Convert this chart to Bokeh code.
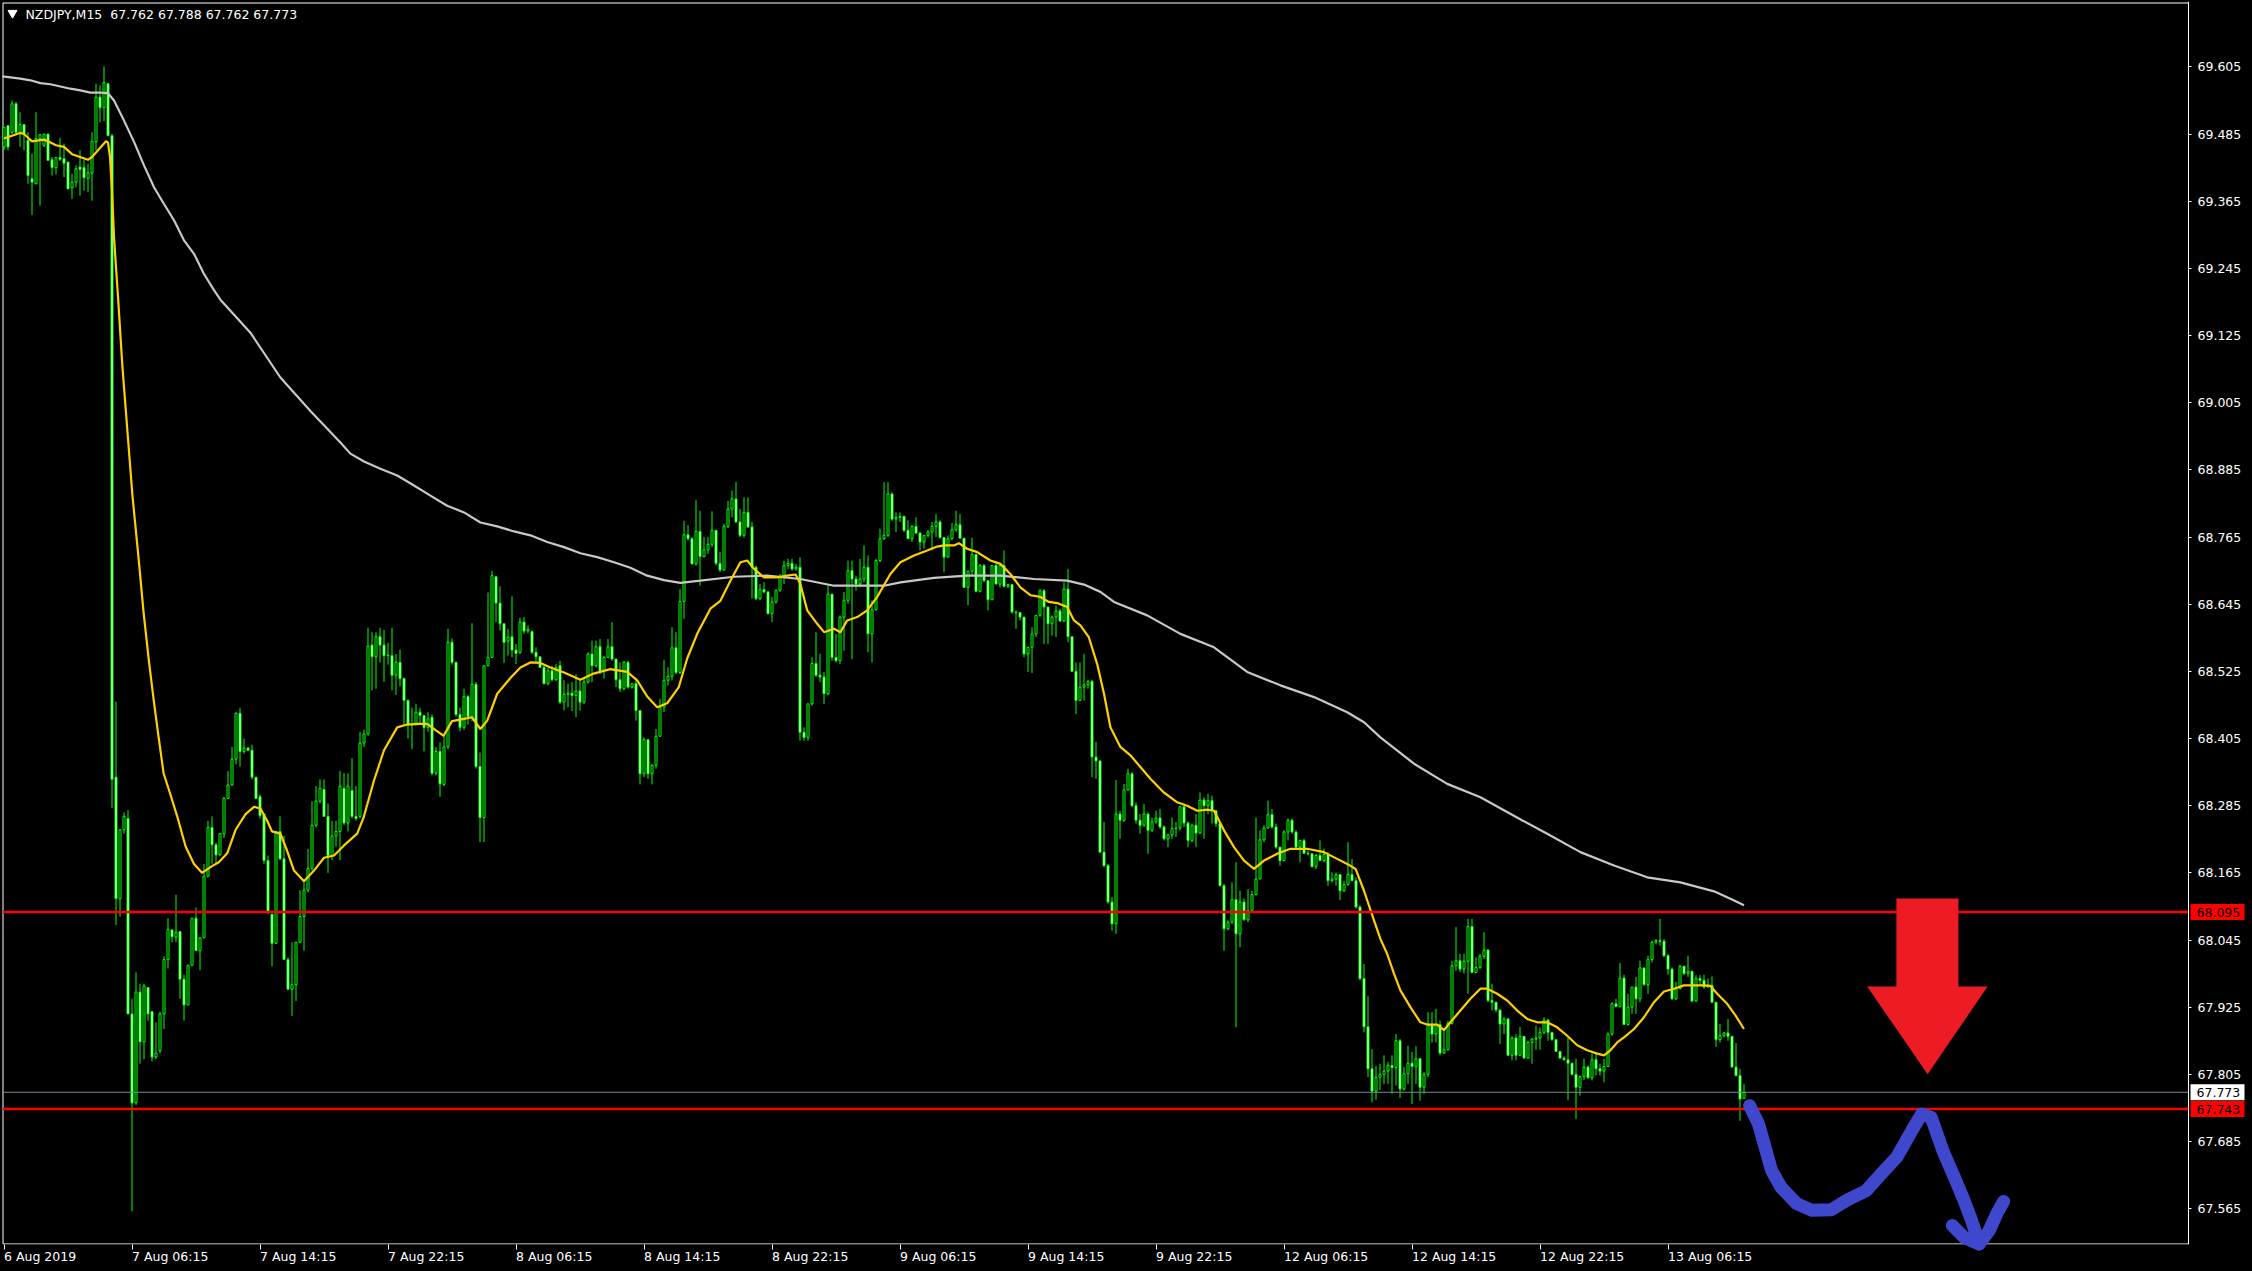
from bokeh.plotting import figure
from bokeh.models import (Range1d, FixedTicker, Label, ColumnDataSource,
                          PrintfTickFormatter, GlobalInlineStyleSheet)
from bokeh.embed import file_html
from bokeh.resources import INLINE
from bokeh.core.properties import value

symbol = "NZDJPY,M15"

opens = [
69.462, 69.500, 69.488, 69.539, 69.488, 69.502, 69.474, 69.405, 69.396, 69.477,
69.465, 69.485, 69.439, 69.425, 69.443, 69.441, 69.435, 69.389, 69.399, 69.426,
69.425, 69.406, 69.415, 69.471, 69.551, 69.532, 69.575, 69.482, 68.336, 68.119,
68.242, 68.262, 67.913, 67.754, 67.952, 67.863, 67.960, 67.917, 67.836, 67.847,
67.913, 68.010, 68.063, 68.050, 68.060, 67.975, 67.929, 68.000, 68.084, 68.026,
68.049, 68.159, 68.246, 68.215, 68.197, 68.235, 68.298, 68.322, 68.368, 68.450,
68.382, 68.388, 68.384, 68.336, 68.301, 68.270, 68.187, 68.091, 68.039, 68.239,
68.190, 68.010, 67.957, 67.965, 68.041, 68.087, 68.134, 68.173, 68.250, 68.293,
68.314, 68.266, 68.196, 68.231, 68.239, 68.316, 68.254, 68.312, 68.266, 68.266,
68.397, 68.413, 68.572, 68.551, 68.587, 68.572, 68.553, 68.553, 68.518, 68.541,
68.512, 68.473, 68.429, 68.430, 68.452, 68.446, 68.425, 68.443, 68.343, 68.382,
68.323, 68.390, 68.577, 68.541, 68.448, 68.425, 68.480, 68.444, 68.502, 68.355,
68.264, 68.535, 68.550, 68.694, 68.647, 68.610, 68.579, 68.587, 68.563, 68.559,
68.613, 68.597, 68.596, 68.559, 68.551, 68.532, 68.503, 68.526, 68.510, 68.535,
68.470, 68.484, 68.486, 68.482, 68.490, 68.470, 68.506, 68.556, 68.535, 68.569,
68.526, 68.550, 68.569, 68.547, 68.510, 68.494, 68.541, 68.497, 68.503, 68.455,
68.342, 68.403, 68.342, 68.357, 68.409, 68.461, 68.509, 68.516, 68.567, 68.523,
68.650, 68.769, 68.762, 68.717, 68.775, 68.730, 68.742, 68.752, 68.777, 68.718,
68.706, 68.784, 68.815, 68.833, 68.792, 68.768, 68.809, 68.783, 68.711, 68.655,
68.671, 68.667, 68.628, 68.649, 68.670, 68.693, 68.714, 68.718, 68.708, 68.711,
68.416, 68.407, 68.467, 68.539, 68.518, 68.515, 68.485, 68.663, 68.550, 68.544,
68.622, 68.652, 68.705, 68.690, 68.681, 68.690, 68.711, 68.592, 68.635, 68.723,
68.762, 68.768, 68.842, 68.797, 68.800, 68.802, 68.777, 68.762, 68.784, 68.772,
68.756, 68.768, 68.774, 68.784, 68.792, 68.764, 68.729, 68.762, 68.778, 68.787,
68.763, 68.675, 68.704, 68.734, 68.668, 68.714, 68.687, 68.653, 68.714, 68.681,
68.714, 68.677, 68.680, 68.631, 68.630, 68.622, 68.556, 68.568, 68.592, 68.625,
68.669, 68.640, 68.610, 68.622, 68.633, 68.615, 68.672, 68.587, 68.525, 68.473,
68.497, 68.501, 68.507, 68.372, 68.365, 68.202, 68.178, 68.113, 68.074, 68.270,
68.259, 68.313, 68.342, 68.285, 68.259, 68.250, 68.270, 68.241, 68.256, 68.263,
68.247, 68.226, 68.233, 68.244, 68.245, 68.283, 68.254, 68.223, 68.250, 68.236,
68.295, 68.285, 68.294, 68.276, 68.253, 68.142, 68.065, 68.077, 68.117, 68.056,
68.113, 68.081, 68.098, 68.126, 68.154, 68.224, 68.245, 68.269, 68.247, 68.211,
68.187, 68.238, 68.259, 68.238, 68.211, 68.223, 68.200, 68.199, 68.176, 68.196,
68.187, 68.198, 68.151, 68.154, 68.162, 68.133, 68.144, 68.162, 68.151, 68.104,
67.976, 67.890, 67.815, 67.775, 67.800, 67.805, 67.811, 67.821, 67.817, 67.865,
67.779, 67.806, 67.825, 67.819, 67.833, 67.782, 67.805, 67.895, 67.877, 67.894,
67.843, 67.849, 67.896, 67.999, 68.008, 67.993, 68.007, 68.069, 67.987, 67.996,
68.016, 68.027, 67.937, 67.934, 67.920, 67.895, 67.904, 67.839, 67.870, 67.839,
67.873, 67.834, 67.862, 67.868, 67.870, 67.880, 67.902, 67.880, 67.867, 67.846,
67.834, 67.831, 67.825, 67.805, 67.782, 67.801, 67.818, 67.799, 67.831, 67.815,
67.811, 67.819, 67.877, 67.931, 67.926, 67.977, 67.894, 67.925, 67.961, 67.940,
67.995, 67.965, 68.010, 68.041, 68.044, 68.043, 68.017, 67.993, 67.940, 67.958,
67.998, 67.985, 67.989, 67.936, 67.976, 67.973, 67.961, 67.964, 67.934, 67.867,
67.874, 67.879, 67.873, 67.818, 67.803, 67.762]

highs = [
69.497, 69.500, 69.545, 69.542, 69.524, 69.502, 69.488, 69.450, 69.524, 69.485,
69.485, 69.485, 69.444, 69.444, 69.478, 69.468, 69.435, 69.414, 69.429, 69.456,
69.439, 69.432, 69.488, 69.575, 69.572, 69.606, 69.575, 69.485, 68.471, 68.242,
68.273, 68.277, 67.940, 67.987, 67.967, 67.967, 67.960, 67.917, 67.898, 67.917,
68.016, 68.084, 68.064, 68.126, 68.060, 67.983, 68.000, 68.084, 68.103, 68.049,
68.181, 68.258, 68.266, 68.219, 68.235, 68.301, 68.347, 68.390, 68.452, 68.460,
68.405, 68.390, 68.394, 68.336, 68.305, 68.270, 68.196, 68.091, 68.239, 68.266,
68.231, 68.014, 68.041, 68.041, 68.134, 68.149, 68.208, 68.293, 68.320, 68.332,
68.332, 68.289, 68.258, 68.258, 68.347, 68.343, 68.343, 68.370, 68.320, 68.417,
68.421, 68.603, 68.595, 68.595, 68.603, 68.599, 68.576, 68.603, 68.556, 68.564,
68.514, 68.475, 68.460, 68.467, 68.460, 68.447, 68.452, 68.448, 68.390, 68.398,
68.413, 68.601, 68.584, 68.543, 68.460, 68.494, 68.483, 68.611, 68.506, 68.380,
68.535, 68.666, 68.705, 68.696, 68.677, 68.610, 68.601, 68.659, 68.574, 68.621,
68.622, 68.607, 68.598, 68.568, 68.551, 68.538, 68.531, 68.535, 68.538, 68.544,
68.509, 68.503, 68.506, 68.520, 68.509, 68.512, 68.559, 68.580, 68.580, 68.583,
68.553, 68.583, 68.613, 68.547, 68.541, 68.544, 68.544, 68.504, 68.512, 68.455,
68.407, 68.404, 68.360, 68.422, 68.476, 68.545, 68.532, 68.604, 68.595, 68.672,
68.794, 68.786, 68.765, 68.831, 68.812, 68.765, 68.765, 68.811, 68.778, 68.738,
68.789, 68.830, 68.848, 68.863, 68.815, 68.836, 68.836, 68.792, 68.714, 68.681,
68.684, 68.669, 68.658, 68.671, 68.699, 68.723, 68.726, 68.726, 68.717, 68.729,
68.425, 68.467, 68.550, 68.595, 68.556, 68.524, 68.681, 68.663, 68.592, 68.625,
68.667, 68.723, 68.723, 68.696, 68.726, 68.750, 68.732, 68.652, 68.726, 68.780,
68.863, 68.863, 68.845, 68.809, 68.809, 68.803, 68.795, 68.786, 68.800, 68.774,
68.768, 68.778, 68.792, 68.806, 68.795, 68.764, 68.768, 68.790, 68.812, 68.806,
68.763, 68.704, 68.764, 68.735, 68.717, 68.717, 68.687, 68.714, 68.720, 68.717,
68.741, 68.681, 68.681, 68.634, 68.630, 68.622, 68.568, 68.604, 68.625, 68.672,
68.672, 68.640, 68.625, 68.643, 68.637, 68.684, 68.708, 68.587, 68.541, 68.541,
68.556, 68.510, 68.510, 68.399, 68.366, 68.256, 68.181, 68.122, 68.331, 68.276,
68.324, 68.351, 68.345, 68.291, 68.270, 68.288, 68.273, 68.264, 68.276, 68.279,
68.250, 68.235, 68.264, 68.256, 68.285, 68.285, 68.257, 68.253, 68.270, 68.309,
68.300, 68.306, 68.303, 68.276, 68.253, 68.145, 68.080, 68.148, 68.184, 68.133,
68.119, 68.136, 68.133, 68.264, 68.241, 68.250, 68.294, 68.279, 68.253, 68.211,
68.241, 68.262, 68.262, 68.241, 68.224, 68.226, 68.205, 68.199, 68.199, 68.223,
68.208, 68.202, 68.166, 68.166, 68.163, 68.151, 68.220, 68.190, 68.157, 68.107,
68.002, 67.945, 67.850, 67.820, 67.824, 67.839, 67.827, 67.839, 67.877, 67.868,
67.818, 67.856, 67.845, 67.855, 67.833, 67.809, 67.916, 67.916, 67.922, 67.901,
67.886, 67.901, 68.008, 68.068, 68.020, 68.020, 68.083, 68.083, 68.014, 68.020,
68.059, 68.029, 67.967, 67.934, 67.920, 67.907, 67.906, 67.873, 67.877, 67.890,
67.873, 67.865, 67.870, 67.892, 67.889, 67.907, 67.904, 67.880, 67.867, 67.846,
67.837, 67.870, 67.825, 67.833, 67.803, 67.833, 67.821, 67.842, 67.842, 67.824,
67.833, 67.880, 67.934, 67.940, 68.004, 67.983, 67.949, 67.961, 67.979, 68.008,
67.996, 68.017, 68.044, 68.047, 68.083, 68.047, 68.020, 67.996, 67.970, 68.001,
67.999, 68.017, 67.990, 67.982, 67.982, 67.983, 67.976, 67.980, 67.934, 67.895,
67.880, 67.904, 67.873, 67.861, 67.815, 67.788]

lows = [
69.456, 69.456, 69.485, 69.485, 69.462, 69.456, 69.396, 69.340, 69.396, 69.357,
69.462, 69.438, 69.411, 69.413, 69.437, 69.408, 69.387, 69.369, 69.390, 69.375,
69.384, 69.381, 69.366, 69.456, 69.506, 69.508, 69.482, 68.281, 68.072, 68.087,
68.235, 67.913, 67.560, 67.750, 67.824, 67.832, 67.901, 67.828, 67.832, 67.843,
67.886, 67.994, 68.041, 68.041, 67.940, 67.901, 67.929, 67.998, 68.026, 67.991,
68.049, 68.157, 68.181, 68.181, 68.196, 68.227, 68.297, 68.320, 68.359, 68.355,
68.378, 68.383, 68.332, 68.297, 68.262, 68.181, 68.091, 67.998, 68.039, 68.188,
68.010, 67.956, 67.909, 67.936, 68.041, 68.026, 68.130, 68.169, 68.246, 68.289,
68.266, 68.165, 68.188, 68.212, 68.188, 68.250, 68.239, 68.262, 68.258, 68.262,
68.390, 68.410, 68.491, 68.494, 68.541, 68.506, 68.537, 68.491, 68.483, 68.498,
68.429, 68.405, 68.386, 68.428, 68.429, 68.382, 68.417, 68.339, 68.339, 68.301,
68.320, 68.386, 68.537, 68.444, 68.418, 68.420, 68.430, 68.436, 68.351, 68.220,
68.220, 68.535, 68.550, 68.613, 68.598, 68.540, 68.553, 68.550, 68.538, 68.556,
68.592, 68.593, 68.556, 68.541, 68.532, 68.503, 68.500, 68.507, 68.508, 68.467,
68.455, 68.461, 68.454, 68.443, 68.455, 68.467, 68.503, 68.506, 68.532, 68.520,
68.512, 68.550, 68.544, 68.497, 68.488, 68.491, 68.494, 68.494, 68.437, 68.323,
68.336, 68.333, 68.323, 68.351, 68.409, 68.452, 68.500, 68.509, 68.520, 68.520,
68.619, 68.759, 68.717, 68.714, 68.678, 68.729, 68.735, 68.747, 68.714, 68.702,
68.705, 68.781, 68.800, 68.790, 68.765, 68.764, 68.781, 68.655, 68.652, 68.652,
68.664, 68.628, 68.613, 68.646, 68.667, 68.681, 68.708, 68.705, 68.705, 68.401,
68.401, 68.401, 68.464, 68.515, 68.506, 68.467, 68.482, 68.544, 68.541, 68.538,
68.562, 68.646, 68.547, 68.669, 68.675, 68.684, 68.559, 68.541, 68.634, 68.720,
68.759, 68.765, 68.794, 68.774, 68.792, 68.774, 68.762, 68.756, 68.771, 68.741,
68.744, 68.764, 68.741, 68.765, 68.762, 68.702, 68.729, 68.759, 68.774, 68.762,
68.675, 68.643, 68.696, 68.666, 68.666, 68.684, 68.634, 68.652, 68.681, 68.675,
68.675, 68.674, 68.628, 68.601, 68.616, 68.550, 68.524, 68.522, 68.586, 68.622,
68.574, 68.574, 68.589, 68.586, 68.613, 68.613, 68.577, 68.524, 68.449, 68.473,
68.473, 68.494, 68.336, 68.333, 68.202, 68.175, 68.110, 68.062, 68.056, 68.226,
68.256, 68.312, 68.282, 68.253, 68.235, 68.247, 68.199, 68.238, 68.253, 68.244,
68.223, 68.211, 68.226, 68.229, 68.241, 68.247, 68.211, 68.220, 68.211, 68.235,
68.226, 68.270, 68.253, 68.247, 68.141, 68.026, 68.062, 68.074, 67.889, 68.032,
68.080, 68.077, 68.096, 68.125, 68.154, 68.220, 68.244, 68.244, 68.208, 68.178,
68.186, 68.223, 68.235, 68.208, 68.184, 68.199, 68.196, 68.175, 68.172, 68.187,
68.184, 68.142, 68.148, 68.142, 68.116, 68.131, 68.142, 68.151, 68.101, 67.973,
67.880, 67.800, 67.755, 67.760, 67.777, 67.788, 67.788, 67.770, 67.785, 67.763,
67.776, 67.788, 67.752, 67.788, 67.758, 67.770, 67.800, 67.862, 67.862, 67.839,
67.842, 67.848, 67.894, 67.990, 67.988, 67.985, 67.949, 67.987, 67.987, 67.993,
68.011, 67.934, 67.919, 67.916, 67.859, 67.877, 67.839, 67.830, 67.830, 67.839,
67.833, 67.834, 67.824, 67.849, 67.849, 67.877, 67.865, 67.865, 67.845, 67.833,
67.830, 67.759, 67.803, 67.725, 67.767, 67.795, 67.797, 67.794, 67.803, 67.803,
67.791, 67.818, 67.874, 67.925, 67.925, 67.894, 67.892, 67.913, 67.913, 67.934,
67.964, 67.949, 68.005, 68.037, 68.035, 68.014, 67.983, 67.938, 67.938, 67.958,
67.982, 67.979, 67.934, 67.934, 67.964, 67.958, 67.960, 67.932, 67.854, 67.862,
67.871, 67.865, 67.817, 67.801, 67.722, 67.762]

closes = [
69.497, 69.462, 69.539, 69.488, 69.502, 69.485, 69.411, 69.399, 69.477, 69.484,
69.485, 69.438, 69.425, 69.443, 69.440, 69.433, 69.387, 69.399, 69.423, 69.422,
69.407, 69.416, 69.472, 69.551, 69.532, 69.577, 69.482, 68.332, 68.119, 68.242,
68.266, 67.913, 67.754, 67.952, 67.863, 67.963, 67.913, 67.836, 67.843, 67.913,
68.010, 68.064, 68.051, 68.059, 67.975, 67.929, 68.000, 68.084, 68.026, 68.049,
68.159, 68.246, 68.215, 68.197, 68.235, 68.298, 68.322, 68.368, 68.450, 68.382,
68.388, 68.384, 68.336, 68.298, 68.267, 68.187, 68.095, 68.039, 68.239, 68.190,
68.010, 67.957, 67.965, 68.041, 68.087, 68.134, 68.173, 68.250, 68.293, 68.316,
68.266, 68.196, 68.231, 68.239, 68.320, 68.254, 68.320, 68.266, 68.262, 68.397,
68.413, 68.570, 68.551, 68.587, 68.572, 68.553, 68.554, 68.518, 68.541, 68.512,
68.473, 68.429, 68.430, 68.452, 68.446, 68.425, 68.440, 68.343, 68.382, 68.324,
68.390, 68.577, 68.541, 68.448, 68.425, 68.480, 68.444, 68.502, 68.355, 68.264,
68.535, 68.550, 68.696, 68.647, 68.610, 68.577, 68.586, 68.563, 68.557, 68.613,
68.597, 68.600, 68.559, 68.551, 68.532, 68.503, 68.526, 68.510, 68.532, 68.470,
68.484, 68.486, 68.482, 68.490, 68.470, 68.506, 68.556, 68.535, 68.569, 68.526,
68.550, 68.569, 68.547, 68.510, 68.494, 68.541, 68.497, 68.503, 68.455, 68.342,
68.403, 68.342, 68.357, 68.409, 68.461, 68.509, 68.516, 68.567, 68.523, 68.650,
68.769, 68.762, 68.717, 68.775, 68.730, 68.742, 68.752, 68.777, 68.718, 68.706,
68.784, 68.815, 68.833, 68.792, 68.768, 68.809, 68.783, 68.711, 68.655, 68.671,
68.667, 68.628, 68.649, 68.670, 68.693, 68.714, 68.718, 68.708, 68.711, 68.416,
68.407, 68.467, 68.539, 68.518, 68.515, 68.485, 68.663, 68.550, 68.544, 68.622,
68.652, 68.705, 68.690, 68.681, 68.690, 68.711, 68.592, 68.635, 68.723, 68.762,
68.768, 68.842, 68.797, 68.800, 68.802, 68.777, 68.762, 68.784, 68.772, 68.756,
68.768, 68.774, 68.784, 68.792, 68.764, 68.729, 68.762, 68.778, 68.787, 68.763,
68.675, 68.704, 68.734, 68.668, 68.714, 68.687, 68.653, 68.714, 68.681, 68.714,
68.677, 68.680, 68.631, 68.630, 68.622, 68.556, 68.568, 68.592, 68.625, 68.669,
68.640, 68.610, 68.622, 68.633, 68.615, 68.672, 68.587, 68.525, 68.473, 68.497,
68.501, 68.507, 68.372, 68.365, 68.202, 68.178, 68.113, 68.074, 68.270, 68.259,
68.313, 68.342, 68.285, 68.259, 68.250, 68.270, 68.241, 68.256, 68.263, 68.247,
68.226, 68.233, 68.244, 68.245, 68.283, 68.254, 68.223, 68.250, 68.236, 68.295,
68.285, 68.294, 68.276, 68.253, 68.142, 68.065, 68.077, 68.117, 68.056, 68.113,
68.081, 68.098, 68.126, 68.154, 68.224, 68.245, 68.269, 68.247, 68.211, 68.187,
68.238, 68.259, 68.238, 68.211, 68.223, 68.200, 68.199, 68.176, 68.196, 68.187,
68.198, 68.151, 68.154, 68.162, 68.133, 68.144, 68.162, 68.151, 68.104, 67.976,
67.890, 67.815, 67.775, 67.800, 67.805, 67.811, 67.821, 67.817, 67.865, 67.779,
67.806, 67.825, 67.819, 67.833, 67.782, 67.805, 67.895, 67.877, 67.894, 67.843,
67.849, 67.896, 67.999, 68.008, 67.993, 68.007, 68.069, 67.987, 67.996, 68.016,
68.027, 67.937, 67.934, 67.920, 67.895, 67.904, 67.839, 67.870, 67.839, 67.873,
67.834, 67.862, 67.868, 67.870, 67.880, 67.902, 67.880, 67.867, 67.846, 67.834,
67.831, 67.825, 67.805, 67.782, 67.801, 67.818, 67.799, 67.831, 67.815, 67.811,
67.819, 67.877, 67.931, 67.926, 67.977, 67.894, 67.925, 67.961, 67.940, 67.995,
67.965, 68.010, 68.041, 68.044, 68.043, 68.017, 67.993, 67.940, 67.958, 67.998,
67.985, 67.989, 67.936, 67.976, 67.973, 67.961, 67.964, 67.934, 67.867, 67.874,
67.879, 67.873, 67.818, 67.803, 67.761, 67.773]

# moving averages (bar index, price)
fast_ma_x = [0.0, 2.0, 4.0, 5.0, 7.0, 10.0, 11.0, 13.0, 15.0, 17.0,
19.0, 21.0, 22.0, 24.0, 25.5, 26.0, 26.5, 27.0, 27.5, 28.0,
28.5, 29.6, 30.9, 32.1, 33.7, 34.9, 36.2, 37.4, 38.7, 39.9,
41.6, 43.3, 45.4, 47.5, 49.5, 52.0, 53.7, 55.8, 57.9, 60.4,
62.5, 64.1, 65.8, 67.0, 69.1, 70.8, 72.5, 75.0, 77.5, 80.0,
82.5, 85.0, 88.3, 89.9, 92.5, 95.0, 98.3, 100.8, 103.3, 105.8,
107.9, 109.9, 112.0, 115.0, 117.0, 119.1, 120.8, 123.3, 126.6, 129.1,
131.6, 134.1, 136.6, 140.0, 144.1, 147.4, 151.6, 155.8, 158.3, 160.8,
163.3, 165.8, 168.7, 170.8, 173.3, 176.6, 179.1, 181.6, 184.1, 185.8,
187.5, 190.0, 193.3, 195.8, 197.9, 199.1, 200.8, 203.3, 205.0, 207.5,
209.1, 210.8, 213.3, 215.8, 218.3, 221.6, 224.1, 227.5, 230.8, 233.3,
235.0, 237.5, 238.7, 240.8, 243.3, 246.6, 249.1, 251.6, 254.1, 256.6,
259.1, 261.2, 263.3, 265.8, 267.5, 269.1, 271.2, 273.3, 275.0, 276.6,
279.1, 281.6, 284.1, 286.6, 289.9, 293.3, 295.8, 298.3, 300.8, 302.5,
305.0, 307.5, 310.0, 312.5, 315.0, 318.3, 321.6, 325.8, 330.0, 333.3,
335.8, 337.9, 340.0, 342.5, 344.1, 345.8, 347.5, 349.1, 351.6, 354.1,
355.8, 358.3, 360.0, 361.6, 364.1, 366.6, 369.1, 370.8, 373.3, 375.8,
378.3, 380.8, 383.3, 385.8, 388.3, 390.8, 393.3, 395.8, 398.3, 400.0,
401.6, 403.3, 405.0, 407.5, 410.0, 412.5, 415.0, 417.5, 420.0, 422.5,
425.0, 426.6, 428.3, 430.8, 432.9, 435.0]
fast_ma_y = [69.477, 69.482, 69.487, 69.485, 69.472, 69.475, 69.472, 69.465, 69.462, 69.449,
69.444, 69.439, 69.444, 69.460, 69.472, 69.470, 69.444, 69.384, 69.301, 69.247,
69.194, 69.070, 68.950, 68.840, 68.723, 68.630, 68.545, 68.475, 68.405, 68.343,
68.305, 68.266, 68.212, 68.181, 68.165, 68.177, 68.184, 68.200, 68.242, 68.270,
68.283, 68.280, 68.258, 68.239, 68.235, 68.204, 68.169, 68.150, 68.169, 68.192,
68.196, 68.214, 68.235, 68.264, 68.330, 68.384, 68.425, 68.430, 68.431, 68.431,
68.420, 68.410, 68.436, 68.440, 68.443, 68.422, 68.437, 68.485, 68.513, 68.532,
68.541, 68.540, 68.532, 68.523, 68.510, 68.521, 68.529, 68.524, 68.509, 68.480,
68.461, 68.468, 68.497, 68.548, 68.592, 68.637, 68.651, 68.687, 68.720, 68.723,
68.708, 68.693, 68.693, 68.696, 68.698, 68.681, 68.634, 68.610, 68.595, 68.601,
68.595, 68.616, 68.622, 68.634, 68.658, 68.699, 68.720, 68.732, 68.741, 68.748,
68.750, 68.750, 68.754, 68.744, 68.738, 68.723, 68.717, 68.699, 68.675, 68.661,
68.658, 68.649, 68.647, 68.640, 68.616, 68.607, 68.586, 68.538, 68.485, 68.425,
68.390, 68.375, 68.354, 68.333, 68.309, 68.291, 68.285, 68.276, 68.278, 68.276,
68.241, 68.211, 68.187, 68.172, 68.187, 68.199, 68.208, 68.208, 68.202, 68.190,
68.181, 68.172, 68.133, 68.080, 68.047, 68.020, 67.985, 67.955, 67.925, 67.898,
67.894, 67.894, 67.884, 67.898, 67.919, 67.940, 67.958, 67.958, 67.949, 67.937,
67.919, 67.904, 67.898, 67.898, 67.889, 67.874, 67.857, 67.848, 67.842, 67.839,
67.848, 67.862, 67.871, 67.886, 67.907, 67.934, 67.953, 67.958, 67.964, 67.964,
67.964, 67.963, 67.949, 67.931, 67.910, 67.886]

slow_ma_x = [-0.4, 4.1, 6.6, 9.1, 11.6, 14.1, 16.6, 19.1, 21.6, 24.1,
26.0, 27.5, 30.0, 32.5, 35.0, 37.5, 40.0, 42.5, 45.0, 47.5,
50.0, 52.5, 54.1, 61.6, 69.1, 76.6, 84.1, 86.6, 90.0, 94.1,
98.3, 102.5, 106.6, 110.8, 115.0, 119.1, 123.3, 127.5, 131.6, 135.8,
140.0, 144.1, 148.3, 152.5, 156.6, 160.8, 165.0, 169.1, 174.1, 182.5,
190.8, 199.1, 207.5, 220.0, 224.1, 232.5, 240.8, 249.1, 257.5, 265.8,
270.0, 274.1, 277.5, 285.8, 294.1, 302.5, 310.8, 319.1, 327.5, 335.8,
340.0, 344.1, 352.5, 360.8, 369.1, 379.5, 385.8, 394.1, 402.5, 410.8,
419.1, 427.5, 432.4, 435.0]
slow_ma_y = [69.588, 69.584, 69.581, 69.576, 69.574, 69.570, 69.566, 69.563, 69.559, 69.559,
69.558, 69.545, 69.509, 69.471, 69.429, 69.390, 69.360, 69.331, 69.295, 69.271,
69.235, 69.206, 69.189, 69.130, 69.050, 68.990, 68.934, 68.914, 68.900, 68.887,
68.875, 68.857, 68.839, 68.821, 68.809, 68.791, 68.784, 68.775, 68.768, 68.756,
68.747, 68.736, 68.729, 68.720, 68.710, 68.696, 68.688, 68.683, 68.687, 68.694,
68.696, 68.690, 68.678, 68.678, 68.684, 68.692, 68.696, 68.696, 68.690, 68.687,
68.680, 68.667, 68.649, 68.625, 68.592, 68.568, 68.524, 68.500, 68.479, 68.452,
68.434, 68.407, 68.360, 68.324, 68.300, 68.259, 68.235, 68.202, 68.178, 68.157,
68.148, 68.132, 68.116, 68.107]

time_tick_bars = [0, 32, 64, 96, 128, 160, 192, 224, 256, 288, 320, 352, 384, 416]
time_tick_labels = ["6 Aug 2019", "7 Aug 06:15", "7 Aug 14:15", "7 Aug 22:15",
                    "8 Aug 06:15", "8 Aug 14:15", "8 Aug 22:15", "9 Aug 06:15",
                    "9 Aug 14:15", "9 Aug 22:15", "12 Aug 06:15", "12 Aug 14:15",
                    "12 Aug 22:15", "13 Aug 06:15"]
price_ticks = [67.565, 67.685, 67.805, 67.925, 68.045, 68.165, 68.285, 68.405, 68.525,
               68.645, 68.765, 68.885, 69.005, 69.125, 69.245, 69.365, 69.485, 69.605]

level_prices = [68.095, 67.743]

# hand-drawn annotations (bar index, price)
forecast_x = [436.4, 438.6, 440.5, 441.9, 444.3, 448.2, 452.0, 456.8, 460.7, 465.5, 469.3, 473.2,
              477.0, 479.4, 481.8, 484.7, 487.6, 490.0, 491.9, 493.8, 496.3, 498.2, 499.9]
forecast_y = [67.749, 67.717, 67.669, 67.633, 67.603, 67.574, 67.562, 67.563, 67.580, 67.597, 67.627, 67.657,
              67.705, 67.734, 67.728, 67.669, 67.621, 67.580, 67.544, 67.502, 67.526, 67.556, 67.578]
forecast_arm_x = [487.1, 490.0, 493.8]
forecast_arm_y = [67.535, 67.514, 67.502]
arrow_x = [473.1, 488.6, 488.6, 495.9, 480.9, 465.8, 473.1]
arrow_y = [68.119, 68.119, 67.962, 67.962, 67.805, 67.962, 67.962]

FONT = "DejaVu Sans"
FS = "12.5px"
LIME = "#00FF00"
WHITE = "#FFFFFF"

# chart-area geometry (bar-index / price units)
X_LEFT, X_RIGHT = -0.625, 562.125        # whole drawing area incl. price scale
Y_BOTTOM, Y_TOP = 67.5010, 69.7218
EDGE_L, EDGE_R = -0.25, 546.125          # chart frame lines
EDGE_B, EDGE_T = 67.5019, 69.7191

n = len(closes)
idx = list(range(n))
src = ColumnDataSource(dict(
    x=idx, open=opens, high=highs, low=lows, close=closes,
    top=[max(o, c) for o, c in zip(opens, closes)],
    bottom=[min(o, c) for o, c in zip(opens, closes)],
    fill=["black" if c >= o else "white" for o, c in zip(opens, closes)],
))

p = figure(frame_width=2251, frame_height=1243, output_backend="svg", toolbar_location=None,
           x_range=Range1d(X_LEFT, X_RIGHT), y_range=Range1d(Y_BOTTOM, Y_TOP),
           y_axis_location="right",
           min_border_left=1, min_border_top=1, min_border_right=0, min_border_bottom=0,
           background_fill_color="black", border_fill_color="black",
           outline_line_color=None)
p.xgrid.visible = False
p.ygrid.visible = False
p.stylesheets = [GlobalInlineStyleSheet(
    css="html, body { margin: 0; padding: 0; background-color: #000000; overflow: hidden; }")]

# chart frame (left, top, bottom); right edge is the price axis line
p.segment(x0=[EDGE_L, EDGE_L, EDGE_L], y0=[EDGE_B, EDGE_T, EDGE_B],
          x1=[EDGE_L, EDGE_R, EDGE_R], y1=[EDGE_T, EDGE_T, EDGE_B],
          line_color=WHITE, line_width=1)

p.segment(x0="x", y0="low", x1="x", y1="high", source=src, line_color=LIME, line_width=1)
p.vbar(x="x", width=0.5, top="top", bottom="bottom", source=src,
       fill_color="fill", line_color=LIME, line_width=1)

p.line(slow_ma_x, slow_ma_y, line_color="#C8C8C8", line_width=2.2)
p.line(fast_ma_x, fast_ma_y, line_color="#FFD000", line_width=2.2)

for lv in level_prices:
    p.segment(x0=[EDGE_L], y0=[lv], x1=[EDGE_R], y1=[lv], line_color="#FF0000", line_width=2.5)
p.segment(x0=[EDGE_L], y0=[closes[-1]], x1=[EDGE_R], y1=[closes[-1]],
          line_color="#778899", line_width=1)

ar = p.patch(arrow_x, arrow_y, fill_color="#ED1C24", line_color=None)
ar.level = "overlay"
b1 = p.line(forecast_x, forecast_y, line_color="#3F48CC", line_width=13,
            line_cap="round", line_join="round")
b1.level = "overlay"
b2 = p.line(forecast_arm_x, forecast_arm_y, line_color="#3F48CC", line_width=13,
            line_cap="round", line_join="round")
b2.level = "overlay"

# price tags on the price scale
tag_prices = [level_prices[0], closes[-1], level_prices[1]]
tag_fill = ["#FF0000", "#FFFFFF", "#FF0000"]
half_h = 0.0143
p.quad(left=546.625, right=560.125,
       top=[t + half_h for t in tag_prices], bottom=[t - half_h for t in tag_prices],
       fill_color=tag_fill, line_color=None)
p.text(x=[548.125] * 3, y=tag_prices, text=[f"{t:.3f}" for t in tag_prices],
       text_color="black", text_font=value(FONT), text_font_size=value(FS),
       text_align="left", text_baseline="middle")

# header
header = f"{symbol}\u00a0 {opens[-1]:.3f} {highs[-1]:.3f} {lows[-1]:.3f} {closes[-1]:.3f}"
p.add_layout(Label(x=5.375, y=69.699, text=header, text_color=WHITE, text_font=FONT,
                   text_font_size=FS, text_align="left", text_baseline="middle"))
p.scatter(x=[2.125], y=[69.7013], marker="inverted_triangle", size=9, color=WHITE)

yax = p.yaxis[0]
yax.fixed_location = EDGE_R
yax.ticker = FixedTicker(ticks=price_ticks)
yax.formatter = PrintfTickFormatter(format="%.3f")
yax.major_tick_out = 3
yax.major_tick_in = 0
yax.major_label_standoff = 6
yax.axis_line_color = WHITE

xax = p.xaxis[0]
xax.ticker = FixedTicker(ticks=time_tick_bars)
xax.major_label_overrides = {b: s for b, s in zip(time_tick_bars, time_tick_labels)}
# a (visually zero) clockwise tilt makes the time labels start at their tick, as in MT4
xax.major_label_orientation = -0.0001
xax.major_tick_out = 5
xax.major_tick_in = 0
xax.major_label_standoff = 7
xax.axis_line_color = None

for ax in (xax, yax):
    ax.major_tick_line_color = WHITE
    ax.minor_tick_line_color = None
    ax.minor_tick_out = 0
    ax.major_label_text_color = WHITE
    ax.major_label_text_font = FONT
    ax.major_label_text_font_size = FS
    ax.axis_label = None

open("out.html", "w").write(file_html(p, INLINE))
